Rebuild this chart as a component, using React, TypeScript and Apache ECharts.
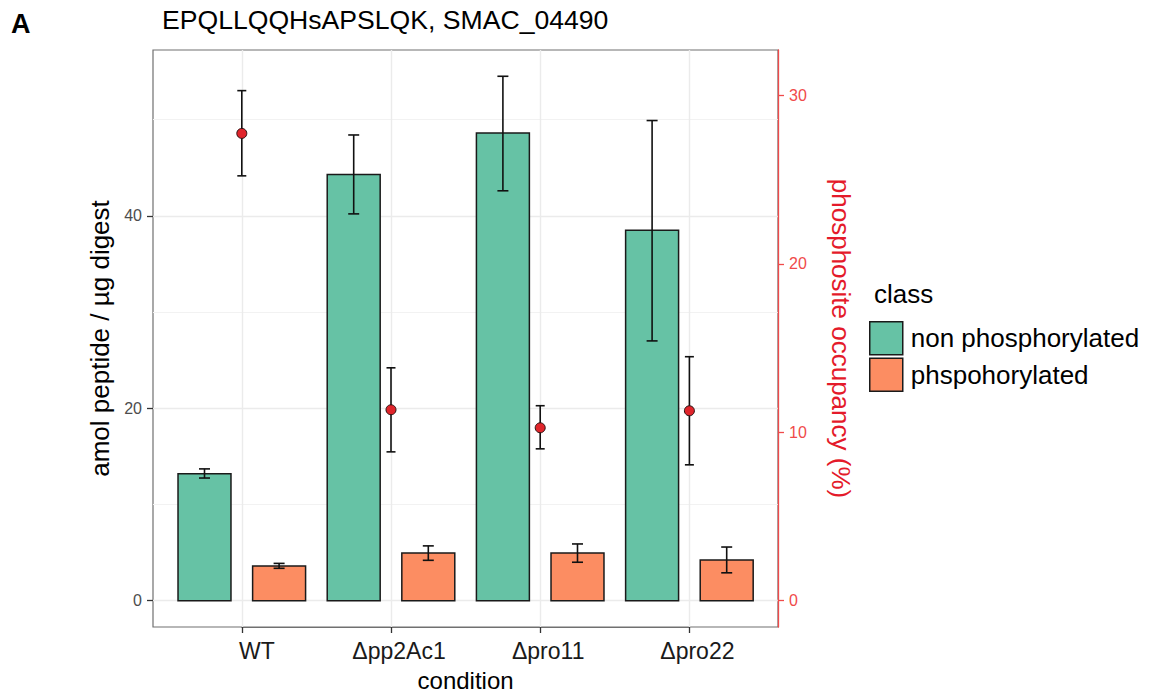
import React, { useEffect, useRef } from 'react';
import * as echarts from 'echarts';

// ---- data ----
const CATEGORIES = ['WT', 'Δpp2Ac1', 'Δpro11', 'Δpro22'];
const NONPHOS = [13.2, 44.3, 48.6, 38.5];
const NONPHOS_LO = [12.75, 40.2, 42.6, 27.0];
const NONPHOS_HI = [13.7, 48.4, 54.5, 49.9];
const PHOS = [3.62, 4.95, 4.95, 4.23];
const PHOS_LO = [3.37, 4.2, 4.0, 2.9];
const PHOS_HI = [3.88, 5.7, 5.9, 5.58];
const OCC = [27.75, 11.34, 10.27, 11.28];
const OCC_LO = [25.23, 8.84, 9.02, 8.07];
const OCC_HI = [30.29, 13.83, 11.58, 14.49];
const LEFT_TICKS = [0, 20, 40];
const RIGHT_TICKS = [0, 10, 20, 30];
const MAJOR_GRID = [0, 20, 40];
const MINOR_GRID = [10, 30, 50];
const LEFT_MIN = -2.73;
const LEFT_MAX = 57.23;
const SEC_FACTOR = 1.75;
const RIGHT_MIN = LEFT_MIN / SEC_FACTOR;
const RIGHT_MAX = LEFT_MAX / SEC_FACTOR;

const SERIES_NAMES = ['non phosphorylated', 'phspohorylated'];
const GREEN = '#66c2a5';
const ORANGE = '#fc8d62';
const RED = '#e41a2a';
const RED_LIGHT = '#f04a4a';
const BORDER = '#707070';
const FONT = '"Liberation Sans", Arial, Helvetica, sans-serif';

const BAR_FRAC = 0.355;

function barRender(offsetFrac: number, color: string) {
  return (params: any, api: any) => {
    const i = api.value(0);
    const band = api.size([1, 0])[0];
    const p0 = api.coord([i, 0]);
    const cx = p0[0] + offsetFrac * band;
    const w = BAR_FRAC * band;
    const y0 = p0[1];
    const yv = api.coord([i, api.value(1)])[1];
    const ylo = api.coord([i, api.value(2)])[1];
    const yhi = api.coord([i, api.value(3)])[1];
    const cap = 5.5;
    const ls = { stroke: '#111', lineWidth: 1.6 };
    return {
      type: 'group',
      children: [
        { type: 'rect', shape: { x: cx - w / 2, y: yv, width: w, height: y0 - yv }, style: { fill: color, stroke: '#1a1a1a', lineWidth: 1.5 } },
        { type: 'line', shape: { x1: cx, y1: ylo, x2: cx, y2: yhi }, style: ls },
        { type: 'line', shape: { x1: cx - cap, y1: ylo, x2: cx + cap, y2: ylo }, style: ls },
        { type: 'line', shape: { x1: cx - cap, y1: yhi, x2: cx + cap, y2: yhi }, style: ls },
      ],
    };
  };
}

function pointRender(params: any, api: any) {
  const i = api.value(0);
  const p = api.coord([i, api.value(1)]);
  const ylo = api.coord([i, api.value(2)])[1];
  const yhi = api.coord([i, api.value(3)])[1];
  const cap = 4.5;
  const ls = { stroke: '#111', lineWidth: 1.6 };
  return {
    type: 'group',
    children: [
      { type: 'line', shape: { x1: p[0], y1: ylo, x2: p[0], y2: yhi }, style: ls },
      { type: 'line', shape: { x1: p[0] - cap, y1: ylo, x2: p[0] + cap, y2: ylo }, style: ls },
      { type: 'line', shape: { x1: p[0] - cap, y1: yhi, x2: p[0] + cap, y2: yhi }, style: ls },
      { type: 'circle', shape: { cx: p[0], cy: p[1], r: 5 }, style: { fill: '#e0252b', stroke: '#2a1010', lineWidth: 1 } },
    ],
  };
}

export default function App() {
  const ref = useRef<HTMLDivElement>(null);
  useEffect(() => {
    const chart = echarts.init(ref.current!, null, { renderer: 'svg' });
    const nonData = CATEGORIES.map((_, i) => [i, NONPHOS[i], NONPHOS_LO[i], NONPHOS_HI[i]]);
    const phosData = CATEGORIES.map((_, i) => [i, PHOS[i], PHOS_LO[i], PHOS_HI[i]]);
    const occData = CATEGORIES.map((_, i) => [i, OCC[i], OCC_LO[i], OCC_HI[i]]);
    const option: any = {
      animation: false,
      backgroundColor: '#ffffff',
      textStyle: { fontFamily: FONT },
      title: [
        { text: 'EPQLLQQHsAPSLQK, SMAC_04490', left: 162, top: 6, padding: 0, textStyle: { fontSize: 26.6, fontWeight: 'normal', color: '#000', fontFamily: FONT } },
        { text: 'A', left: 11, top: 10, padding: 0, textStyle: { fontSize: 27, fontWeight: 'bold', color: '#000', fontFamily: FONT } },
        { text: 'class', left: 874, top: 281, padding: 0, textStyle: { fontSize: 26, fontWeight: 'normal', color: '#000', fontFamily: FONT } },
      ],
      legend: {
        orient: 'vertical',
        left: 869,
        top: 321,
        padding: 0,
        itemGap: 2,
        itemWidth: 33,
        itemHeight: 33,
        icon: 'rect',
        selectedMode: false,
        data: SERIES_NAMES,
        itemStyle: { borderColor: '#1a1a1a', borderWidth: 1.5 },
        textStyle: { fontSize: 26, color: '#000', fontFamily: FONT, padding: [0, 0, 0, 3] },
      },
      grid: [
        { left: 153, top: 50, width: 625, height: 577, show: true, borderColor: BORDER, borderWidth: 1.2, backgroundColor: 'transparent', containLabel: false, outerBoundsMode: 'none' },
        { left: 241.8, top: 50, width: 447.6, height: 577, containLabel: false, outerBoundsMode: 'none' },
      ],
      xAxis: [
        {
          type: 'category',
          gridIndex: 1,
          data: CATEGORIES,
          boundaryGap: false,
          position: 'bottom',
          axisLine: { show: true, onZero: false, lineStyle: { color: BORDER, width: 1.2 } },
          axisTick: { show: true, length: 6, lineStyle: { color: '#333', width: 1.3 } },
          axisLabel: {
            interval: 0,
            margin: 12,
            fontSize: 23,
            color: '#1a1a1a',
            formatter: (v: string) => (v === 'WT' ? '{w|' + v + '}' : '{d|' + v + '}'),
            rich: {
              w: { fontSize: 23, color: '#1a1a1a', fontFamily: FONT, padding: [0, 0, 0, 30] },
              d: { fontSize: 23, color: '#1a1a1a', fontFamily: FONT, padding: [0, 0, 0, 16] },
            },
          },
          splitLine: { show: true, lineStyle: { color: '#ebebeb', width: 1.4 } },
          name: 'condition',
          nameLocation: 'middle',
          nameGap: 41,
          nameTextStyle: { fontSize: 24, color: '#000', fontFamily: FONT },
        },
        { type: 'value', gridIndex: 0, min: 0, max: 1, show: false },
      ],
      yAxis: [
        {
          type: 'value', gridIndex: 0, position: 'left', min: LEFT_MIN, max: LEFT_MAX,
          axisLine: { show: false },
          axisTick: { show: false, customValues: MAJOR_GRID },
          axisLabel: { show: false, customValues: MAJOR_GRID },
          splitLine: { show: true, lineStyle: { color: '#ebebeb', width: 1.4 } },
        },
        {
          type: 'value', gridIndex: 0, position: 'left', min: LEFT_MIN, max: LEFT_MAX,
          axisLine: { show: false },
          axisTick: { show: false, customValues: MINOR_GRID },
          axisLabel: { show: false, customValues: MINOR_GRID },
          splitLine: { show: true, lineStyle: { color: '#f2f2f2', width: 1 } },
        },
        {
          type: 'value', gridIndex: 0, position: 'left', min: LEFT_MIN, max: LEFT_MAX,
          axisLine: { show: false },
          axisTick: { show: true, length: 6, lineStyle: { color: '#333', width: 1.3 }, customValues: LEFT_TICKS },
          axisLabel: { customValues: LEFT_TICKS, fontSize: 16, color: '#4d4d4d', margin: 11 },
          splitLine: { show: false },
          name: 'amol peptide / µg digest',
          nameLocation: 'middle',
          nameRotate: 90,
          nameGap: 33,
          nameTextStyle: { fontSize: 26, color: '#000', fontFamily: FONT },
        },
        {
          type: 'value', gridIndex: 0, position: 'right', min: RIGHT_MIN, max: RIGHT_MAX,
          axisLine: { show: true, lineStyle: { color: RED_LIGHT, width: 1.3 } },
          axisTick: { show: true, length: 6, lineStyle: { color: RED_LIGHT, width: 1.3 }, customValues: RIGHT_TICKS },
          axisLabel: { customValues: RIGHT_TICKS, fontSize: 16, color: RED_LIGHT, margin: 11 },
          splitLine: { show: false },
          name: 'phosphosite occupancy (%)',
          nameLocation: 'middle',
          nameRotate: -90,
          nameGap: 50,
          nameTextStyle: { fontSize: 26, color: RED, fontFamily: FONT },
        },
        { type: 'value', gridIndex: 1, min: LEFT_MIN, max: LEFT_MAX, show: false, splitLine: { show: false } },
        { type: 'value', gridIndex: 1, min: RIGHT_MIN, max: RIGHT_MAX, show: false, splitLine: { show: false } },
      ],
      series: [
        {
          name: SERIES_NAMES[0], type: 'custom', xAxisIndex: 0, yAxisIndex: 4,
          itemStyle: { color: GREEN }, encode: { x: 0, y: [1, 2, 3] },
          renderItem: barRender(-0.25, GREEN), data: nonData, z: 3,
        },
        {
          name: SERIES_NAMES[1], type: 'custom', xAxisIndex: 0, yAxisIndex: 4,
          itemStyle: { color: ORANGE }, encode: { x: 0, y: [1, 2, 3] },
          renderItem: barRender(0.25, ORANGE), data: phosData, z: 3,
        },
        {
          name: 'occupancy', type: 'custom', xAxisIndex: 0, yAxisIndex: 5,
          itemStyle: { color: '#e0252b' }, encode: { x: 0, y: [1, 2, 3] },
          renderItem: pointRender, data: occData, z: 4,
        },
      ],
    };
    chart.setOption(option);
    return () => chart.dispose();
  }, []);
  return <div ref={ref} style={{ position: 'absolute', left: 0, top: 0, width: 1152, height: 693 }} />;
}
